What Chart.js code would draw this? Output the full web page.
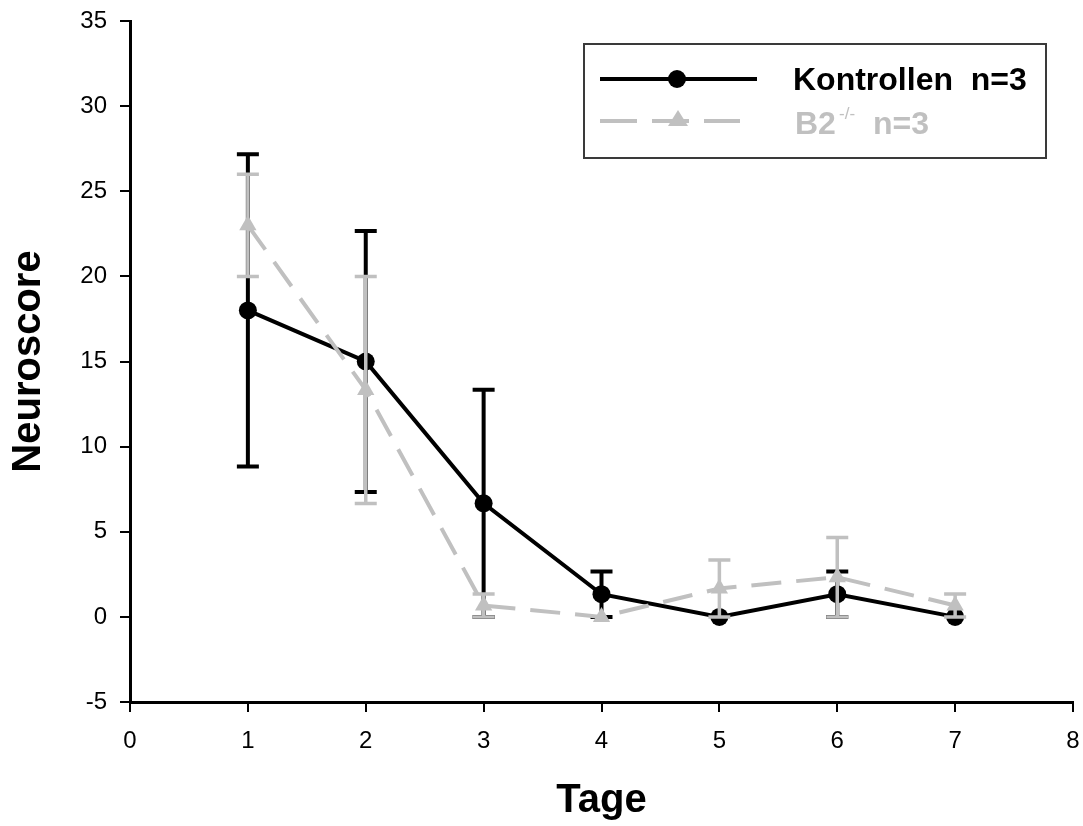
<!DOCTYPE html>
<html lang="de">
<head>
    <meta charset="UTF-8">
    <title>Neuroscore</title>
    <script src="https://cdn.jsdelivr.net/npm/chart.js@4.4.1/dist/chart.umd.min.js"></script>
    <style>
        html, body { margin: 0; padding: 0; background: #fff; }
        #wrap { width: 1083px; height: 826px; }
    </style>
</head>
<body>
    <div id="wrap"><canvas id="chart" width="1083" height="826"></canvas></div>
    <script>
        // Tage (x) und Neuroscore-Mittelwerte mit Fehlerbalken
        var tage = [1, 2, 3, 4, 5, 6, 7];
        var kontrollen = [18, 15, 6.67, 1.33, 0, 1.33, 0];
        var kontrollenFehler = [9.17, 7.67, 6.67, 1.33, 0, 1.33, 0];
        var b2 = [23, 13.33, 0.67, 0, 1.67, 2.33, 0.67];
        var b2Fehler = [3, 6.67, 0.67, 0, 1.67, 2.33, 0.67];
        var xAchse = { min: 0, max: 8, step: 1 };
        var yAchse = { min: -5, max: 35, step: 5 };

        var schwarz = '#000000';
        var grau = '#c0c0c0';
        var schrift = '"Liberation Sans", Arial, sans-serif';

        function punkte(werte) {
            return tage.map(function (t, i) { return { x: t, y: werte[i] }; });
        }

        // Fehlerbalken vor jedem Datensatz zeichnen
        var fehlerBalken = {
            id: 'fehlerBalken',
            beforeDatasetDraw: function (chart, args) {
                var ds = chart.data.datasets[args.index];
                if (!ds.fehler) return;
                var ctx = chart.ctx;
                var xs = chart.scales.x, ys = chart.scales.y;
                ctx.save();
                ctx.strokeStyle = ds.borderColor;
                ctx.lineWidth = ds.fehlerBreite;
                ctx.setLineDash([]);
                ds.data.forEach(function (p, i) {
                    var f = ds.fehler[i];
                    if (!f) return;
                    var x = xs.getPixelForValue(p.x);
                    var oben = ys.getPixelForValue(p.y + f);
                    var unten = ys.getPixelForValue(Math.max(p.y - f, yAchse.min));
                    ctx.beginPath();
                    ctx.moveTo(x, oben); ctx.lineTo(x, unten);
                    ctx.moveTo(x - 11, oben); ctx.lineTo(x + 11, oben);
                    ctx.moveTo(x - 11, unten); ctx.lineTo(x + 11, unten);
                    ctx.stroke();
                });
                ctx.restore();
            }
        };

        // Legende im Kasten oben rechts
        var legende = {
            id: 'legende',
            afterDraw: function (chart) {
                var ctx = chart.ctx;
                ctx.save();
                ctx.strokeStyle = '#3a3a3a';
                ctx.lineWidth = 2;
                ctx.strokeRect(584, 44, 462, 114);

                ctx.strokeStyle = schwarz;
                ctx.lineWidth = 4;
                ctx.beginPath(); ctx.moveTo(600, 79); ctx.lineTo(757, 79); ctx.stroke();
                ctx.fillStyle = schwarz;
                ctx.beginPath(); ctx.arc(677, 79, 9, 0, Math.PI * 2); ctx.fill();
                ctx.font = 'bold 32px ' + schrift;
                ctx.textBaseline = 'alphabetic';
                ctx.fillText('Kontrollen  n=3', 793, 90);

                ctx.strokeStyle = grau;
                ctx.setLineDash([37, 15]);
                ctx.beginPath(); ctx.moveTo(600, 121); ctx.lineTo(740, 121); ctx.stroke();
                ctx.setLineDash([]);
                ctx.fillStyle = grau;
                ctx.beginPath();
                ctx.moveTo(678, 110); ctx.lineTo(688, 126); ctx.lineTo(668, 126); ctx.closePath();
                ctx.fill();
                ctx.fillText('B2', 795, 134);
                ctx.font = '17px ' + schrift;
                ctx.fillText('-/-', 839, 119);
                ctx.font = 'bold 32px ' + schrift;
                ctx.fillText('n=3', 873, 134);
                ctx.restore();
            }
        };

        var tickFont = { family: schrift, size: 24 };
        var titelFont = { family: schrift, size: 40, weight: 'bold' };

        new Chart(document.getElementById('chart'), {
            type: 'line',
            data: {
                datasets: [
                    {
                        label: 'Kontrollen n=3',
                        data: punkte(kontrollen),
                        fehler: kontrollenFehler,
                        fehlerBreite: 4,
                        borderColor: schwarz,
                        backgroundColor: schwarz,
                        borderWidth: 4,
                        pointStyle: 'circle',
                        pointRadius: 9,
                        pointBorderWidth: 0,
                        order: 1
                    },
                    {
                        label: 'B2 -/- n=3',
                        data: punkte(b2),
                        fehler: b2Fehler,
                        fehlerBreite: 3.5,
                        borderColor: grau,
                        backgroundColor: grau,
                        borderWidth: 4,
                        borderDash: [30, 15],
                        pointStyle: 'triangle',
                        pointRadius: 10,
                        pointBorderWidth: 0,
                        order: 0
                    }
                ]
            },
            options: {
                responsive: false,
                animation: false,
                devicePixelRatio: 1,
                layout: { padding: { top: 21, right: 8, left: 0, bottom: 0 } },
                plugins: { legend: { display: false }, tooltip: { enabled: false } },
                elements: { line: { tension: 0 } },
                scales: {
                    x: {
                        type: 'linear',
                        min: xAchse.min, max: xAchse.max,
                        afterFit: function (s) { s.height = 124; s.paddingLeft = 0; s.paddingRight = 0; },
                        ticks: { stepSize: xAchse.step, font: tickFont, color: schwarz, padding: 15, maxRotation: 0 },
                        grid: { drawOnChartArea: false, tickLength: 10, color: schwarz, lineWidth: 2 },
                        border: { display: true, color: schwarz, width: 3 },
                        title: { display: true, text: 'Tage', font: titelFont, color: schwarz, padding: { top: 0, bottom: 1 } }
                    },
                    y: {
                        min: yAchse.min, max: yAchse.max,
                        afterFit: function (s) { s.width = 130; s.paddingTop = 0; s.paddingBottom = 0; },
                        ticks: { stepSize: yAchse.step, font: tickFont, color: schwarz, padding: 13 },
                        grid: { drawOnChartArea: false, tickLength: 10, color: schwarz, lineWidth: 2 },
                        border: { display: true, color: schwarz, width: 3 },
                        title: { display: true, text: 'Neuroscore', font: titelFont, color: schwarz, padding: { top: 5, bottom: 0 } }
                    }
                }
            },
            plugins: [fehlerBalken, legende]
        });
    </script>
</body>
</html>
